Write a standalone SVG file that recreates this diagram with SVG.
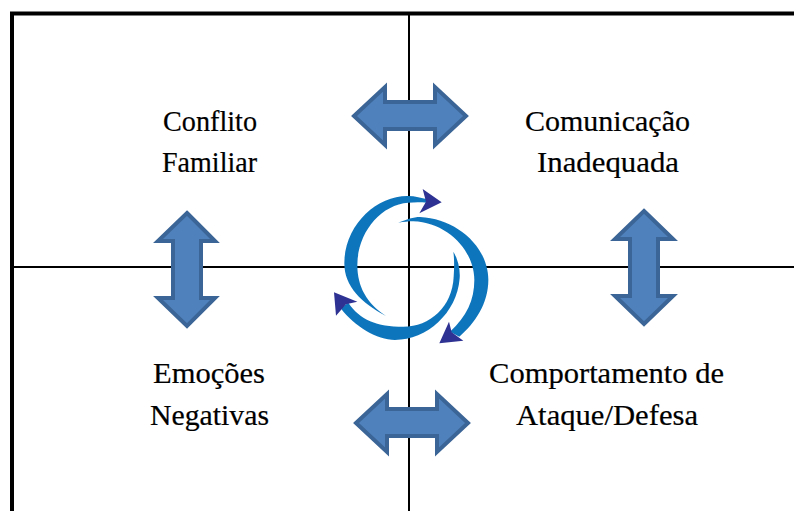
<svg xmlns="http://www.w3.org/2000/svg" width="794" height="511" viewBox="0 0 794 511">
<defs><filter id="soft" x="-5%" y="-5%" width="110%" height="110%"><feGaussianBlur stdDeviation="1.8"/></filter></defs>
<style>
.t{font-family:"Liberation Serif","Times New Roman",serif;font-size:29px;fill:#000;stroke:#000;stroke-width:.2}
.a{fill:#4f81bd;stroke:#3b6596;stroke-width:4;stroke-linejoin:miter}
.r{fill:#0f75bc}
.h{fill:#2e3192}
.l{stroke:#000;fill:none}
</style>
<rect width="794" height="511" fill="#fff"/>
<g id="connectors">
<path class="l" stroke-width="4" d="M12,511V13.500H794"/>
<path class="l" stroke-width="2" d="M409,13V511M12,267H794"/>
</g>
<g id="arrow-top"><path class="a" d="M354,116L385,87V102H435V87L466,116L435,145V129H385V145Z"/></g>
<g id="arrow-bottom"><path class="a" d="M356,423L387,394V409H437V394L468,423L437,452V436H387V452Z"/></g>
<g id="arrow-left"><path class="a" d="M187,213L215,241H201V298H215L187,326L158,298H173V241H158Z"/></g>
<g id="arrow-right"><path class="a" d="M644,211L673,239H658V296H673L644,324L615,296H630V239H615Z"/></g>
<g id="cycle" transform="translate(320 170) scale(.33333)" filter="url(#soft)">
<path class="r" d="M198,438C125,400 73,350 73,280C73,165 170,76 265,78C285,78 305,84 322,88L322,98C300,96 285,96 265,98C180,104 112,190 112,285C112,350 140,400 198,438Z"/>
<path class="h" d="M308,57L365,97L298,130L318,95Z"/>
<path class="r" d="M235,158C260,148 280,141 300,141C410,146 505,230 505,330C505,400 465,460 418,500L390,485C440,440 463,390 463,330C463,240 380,157 280,154C265,154 250,156 235,158Z"/>
<path class="h" d="M387,455L395,487L430,512L358,520Z"/>
<path class="r" d="M400,245C415,270 421,300 419,325C411,430 320,510 225,510C170,510 105,470 62,415L85,398C120,450 170,470 250,470C330,470 397,410 401,320C403,290 403,265 400,245Z"/>
<path class="h" d="M42,367L112,395L78,403L48,437Z"/>
</g>
<g id="conflito"><text class="t" x="163" y="131" textLength="94" lengthAdjust="spacingAndGlyphs">Conflito</text><text class="t" x="162" y="172" textLength="95" lengthAdjust="spacingAndGlyphs">Familiar</text></g>
<g id="comunicacao"><text class="t" x="525" y="131" textLength="165" lengthAdjust="spacingAndGlyphs">Comunicação</text><text class="t" x="537" y="172" textLength="142" lengthAdjust="spacingAndGlyphs">Inadequada</text></g>
<g id="emocoes"><text class="t" x="153" y="383" textLength="112" lengthAdjust="spacingAndGlyphs">Emoções</text><text class="t" x="150" y="425" textLength="119" lengthAdjust="spacingAndGlyphs">Negativas</text></g>
<g id="comportamento"><text class="t" x="489" y="383" textLength="235" lengthAdjust="spacingAndGlyphs">Comportamento de</text><text class="t" x="516" y="425" textLength="182" lengthAdjust="spacingAndGlyphs">Ataque/Defesa</text></g>
</svg>
